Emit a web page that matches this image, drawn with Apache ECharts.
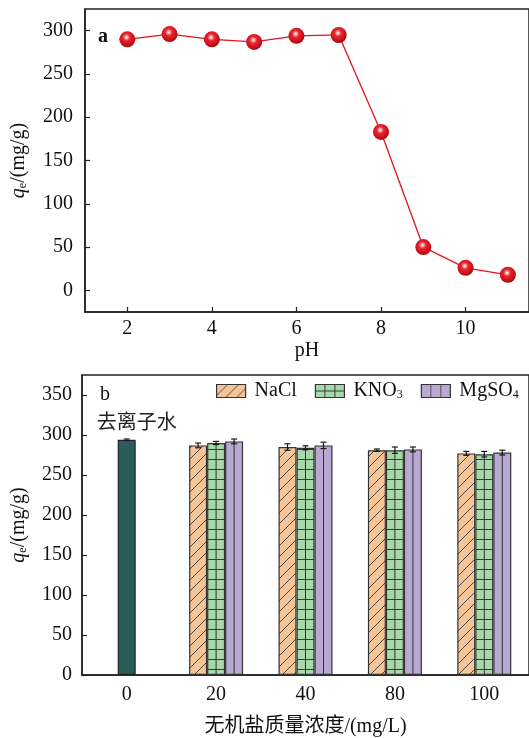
<!DOCTYPE html>
<html><head><meta charset="utf-8">
<script src="https://cdn.jsdelivr.net/npm/echarts@6/dist/echarts.min.js"></script>
<style>html,body{margin:0;padding:0;background:#fff}#c{width:529px;height:738px}</style>
</head><body><div id="c"></div>
<script>
// Panel a data
var phValues = [2, 3, 4, 5, 6, 7, 8, 9, 10, 11];
var qeByPh = [290, 296, 290, 287, 294, 295, 183, 50, 26, 18];
var phTicks = [2, 4, 6, 8, 10];
var qeTicksA = [0, 50, 100, 150, 200, 250, 300];
// Panel b data
var concCategories = ['0', '20', '40', '80', '100'];
var waterValue = [294, '-', '-', '-', '-'];
var waterErr = [1, 0, 0, 0, 0];
var naclValues = ['-', 287, 285, 281, 277];
var naclErr = [0, 3, 4, 1.5, 2.5];
var kno3Values = ['-', 290, 284, 281, 276];
var kno3Err = [0, 2, 2.5, 4, 3.5];
var mgso4Values = ['-', 292, 287, 282, 278];
var mgso4Err = [0, 3, 4, 3, 3];
var qeTicksB = [0, 50, 100, 150, 200, 250, 300, 350];

var FONT = 'Liberation Serif';
var BW = 18;

function mk(w, h, fill, draw) {
  var c = document.createElement('canvas'); c.width = w; c.height = h;
  var g = c.getContext('2d'); g.fillStyle = fill; g.fillRect(0, 0, w, h);
  g.strokeStyle = '#3a3a3a'; g.lineWidth = 1; draw(g); return c;
}
var hatch = mk(11, 11, '#f6c597', function (g) {
  g.lineWidth = 0.9;
  g.beginPath(); g.moveTo(-1, 12); g.lineTo(12, -1); g.moveTo(-6.5, 6.5); g.lineTo(6.5, -6.5); g.moveTo(4.5, 17.5); g.lineTo(17.5, 4.5); g.stroke();
});
var hLines = mk(10, 10, '#a7d8a9', function (g) {
  g.beginPath(); g.moveTo(0, 9.5); g.lineTo(10, 9.5); g.stroke();
});
var gridP = mk(10, 7, '#a7d8a9', function (g) {
  g.beginPath(); g.moveTo(0, 6.5); g.lineTo(10, 6.5); g.moveTo(9.5, 0); g.lineTo(9.5, 7); g.stroke();
});
var vLines = mk(10, 10, '#b9a8d4', function (g) {
  g.strokeStyle = '#555'; g.beginPath(); g.moveTo(9.5, 0); g.lineTo(9.5, 10); g.stroke();
});

function errData(vals, errs, k, mid) {
  var out = [];
  for (var i = 0; i < vals.length; i++) {
    if (vals[i] === '-') continue;
    out.push([i, vals[i], errs[i], k, mid]);
  }
  return out;
}
var errAll = [].concat(
  errData(waterValue, waterErr, 0, 0),
  errData(naclValues, naclErr, -1, 0),
  errData(kno3Values, kno3Err, 0, 1),
  errData(mgso4Values, mgso4Err, 1, 1)
);

var chart = echarts.init(document.getElementById('c'), null, { renderer: 'canvas' });
var axisLabel = { fontFamily: FONT, fontSize: 20, color: '#111' };
var nameRich = {
  i: { fontFamily: FONT, fontSize: 20, fontStyle: 'italic', color: '#111' },
  s: { fontFamily: FONT, fontSize: 12, color: '#111', verticalAlign: 'bottom', padding: [8, 0, 0, 0] },
  n: { fontFamily: FONT, fontSize: 20, color: '#111' }
};
var lineStyleAxis = { color: '#222', width: 1.5 };

chart.setOption({
  animation: false,
  title: [
    { text: 'a', left: 93, top: 22, textStyle: { fontFamily: FONT, fontSize: 20, fontWeight: 'bold', color: '#111' } },
    { text: 'b', left: 95, top: 380, textStyle: { fontFamily: FONT, fontSize: 20, fontWeight: 'normal', color: '#111' } }
  ],
  grid: [
    { left: 85, top: 9, right: -4, bottom: 426, show: true, borderColor: '#222', borderWidth: 1.5, containLabel: false },
    { left: 82, top: 375, right: -1, bottom: 61, show: true, borderColor: '#222', borderWidth: 1.5, containLabel: false }
  ],
  legend: {
    left: 211, top: 376, itemWidth: 29, itemHeight: 13, itemGap: 18,
    icon: 'rect',
    itemStyle: { borderColor: '#333', borderWidth: 1.2 },
    textStyle: {
      fontFamily: FONT, fontSize: 20, color: '#111', padding: [0, 0, 0, 4],
      rich: {
        n: { fontFamily: FONT, fontSize: 20, color: '#111' },
        s: { fontFamily: FONT, fontSize: 12, color: '#111', verticalAlign: 'bottom', padding: [8, 0, 0, 0] }
      }
    },
    formatter: function (name) {
      if (name === 'KNO3') return '{n|KNO}{s|3}';
      if (name === 'MgSO4') return '{n|MgSO}{s|4}';
      return '{n|' + name + '}';
    },
    data: [
      { name: 'NaCl', itemStyle: { color: { image: hatch, repeat: 'repeat' } } },
      { name: 'KNO3', itemStyle: { color: { image: gridP, repeat: 'repeat' } } },
      { name: 'MgSO4', itemStyle: { color: { image: vLines, repeat: 'repeat' } } }
    ]
  },
  xAxis: [
    {
      gridIndex: 0, type: 'value', min: 1, max: 11.5,
      name: 'pH', nameLocation: 'middle', nameGap: 29,
      nameTextStyle: { fontFamily: FONT, fontSize: 20, color: '#111' },
      axisLine: { onZero: false, lineStyle: lineStyleAxis },
      axisTick: { inside: true, length: 5, customValues: phTicks, lineStyle: { color: '#222', width: 1.2 } },
      axisLabel: Object.assign({ margin: 7, customValues: phTicks }, axisLabel),
      splitLine: { show: false }
    },
    {
      gridIndex: 1, type: 'category', data: concCategories,
      name: '无机盐质量浓度/(mg/L)', nameLocation: 'middle', nameGap: 42,
      nameTextStyle: { fontFamily: FONT + ', Noto Sans CJK SC', fontSize: 20, color: '#111' },
      axisLine: { lineStyle: lineStyleAxis },
      axisTick: { inside: true, length: 5, alignWithLabel: true, lineStyle: { color: '#222', width: 1.2 } },
      axisLabel: Object.assign({ margin: 10 }, axisLabel),
      splitLine: { show: false }
    },
    {
      gridIndex: 1, type: 'category', data: concCategories, show: false
    }
  ],
  yAxis: [
    {
      gridIndex: 0, type: 'value', min: -25, max: 325,
      name: '{i|q}{s|e}{n|/(mg/g)}', nameLocation: 'middle', nameGap: 56,
      nameTextStyle: { rich: nameRich },
      axisLine: { show: true, onZero: false, lineStyle: lineStyleAxis },
      axisTick: { show: true, inside: true, length: 5, customValues: qeTicksA, lineStyle: { color: '#222', width: 1.2 } },
      axisLabel: Object.assign({ margin: 12, customValues: qeTicksA }, axisLabel),
      splitLine: { show: false }
    },
    {
      gridIndex: 1, type: 'value', min: 0, max: 375,
      name: '{i|q}{s|e}{n|/(mg/g)}', nameLocation: 'middle', nameGap: 53,
      nameTextStyle: { rich: nameRich },
      axisLine: { show: true, lineStyle: lineStyleAxis },
      axisTick: { show: true, inside: true, length: 5, customValues: qeTicksB, lineStyle: { color: '#222', width: 1.2 } },
      axisLabel: Object.assign({ margin: 10, customValues: qeTicksB }, axisLabel),
      splitLine: { show: false }
    }
  ],
  series: [
    {
      type: 'line', xAxisIndex: 0, yAxisIndex: 0,
      data: phValues.map(function (p, i) { return [p, qeByPh[i]]; }),
      lineStyle: { color: '#e2141f', width: 1.3 },
      symbol: 'circle', symbolSize: 16,
      itemStyle: {
        color: {
          type: 'radial', x: 0.45, y: 0.38, r: 0.62,
          colorStops: [
            { offset: 0, color: '#ffffff' },
            { offset: 0.12, color: '#f9b8b8' },
            { offset: 0.35, color: '#e82630' },
            { offset: 0.8, color: '#c80e18' },
            { offset: 1, color: '#98050c' }
          ]
        }
      },
      z: 3
    },
    {
      name: '去离子水', type: 'bar', xAxisIndex: 2, yAxisIndex: 1, data: waterValue, barWidth: BW,
      itemStyle: { color: '#2a5c58', borderColor: '#222', borderWidth: 1.2 },
      label: {
        show: true, position: 'top', distance: 8, offset: [10, 0],
        formatter: '去离子水', fontFamily: 'Noto Sans CJK SC', fontSize: 20, color: '#222'
      }
    },
    {
      name: 'NaCl', type: 'bar', xAxisIndex: 1, yAxisIndex: 1, data: naclValues, barWidth: BW, barGap: '0%',
      itemStyle: { color: { image: hatch, repeat: 'repeat' }, borderColor: '#333', borderWidth: 1.2 }
    },
    {
      name: 'KNO3', type: 'bar', xAxisIndex: 1, yAxisIndex: 1, data: kno3Values, barWidth: BW, barGap: '0%',
      itemStyle: { color: { image: hLines, repeat: 'repeat' }, borderColor: '#333', borderWidth: 1.2 }
    },
    {
      name: 'MgSO4', type: 'bar', xAxisIndex: 1, yAxisIndex: 1, data: mgso4Values, barWidth: BW, barGap: '0%',
      itemStyle: { color: '#b9a8d4', borderColor: '#333', borderWidth: 1.2 }
    },
    {
      type: 'custom', xAxisIndex: 1, yAxisIndex: 1, data: errAll, z: 5,
      encode: { x: 0, y: 1 },
      renderItem: function (params, api) {
        var ci = api.value(0), v = api.value(1), e = api.value(2), k = api.value(3), mid = api.value(4);
        var base = api.coord([ci, 0]);
        var x = base[0] + k * BW;
        var yv = api.coord([ci, v])[1];
        var yh = api.coord([ci, v + e])[1];
        var yl = api.coord([ci, v - e])[1];
        var st = { stroke: '#1a1a1a', lineWidth: 1.2 };
        var ch = [];
        if (mid) ch.push({ type: 'line', shape: { x1: x, y1: base[1], x2: x, y2: yv }, style: { stroke: '#333', lineWidth: 1 } });
        ch.push({ type: 'line', shape: { x1: x, y1: yh, x2: x, y2: yl }, style: st });
        ch.push({ type: 'line', shape: { x1: x - 3, y1: yh, x2: x + 3, y2: yh }, style: st });
        ch.push({ type: 'line', shape: { x1: x - 3, y1: yl, x2: x + 3, y2: yl }, style: st });
        return { type: 'group', children: ch };
      }
    }
  ]
});
</script></body></html>
